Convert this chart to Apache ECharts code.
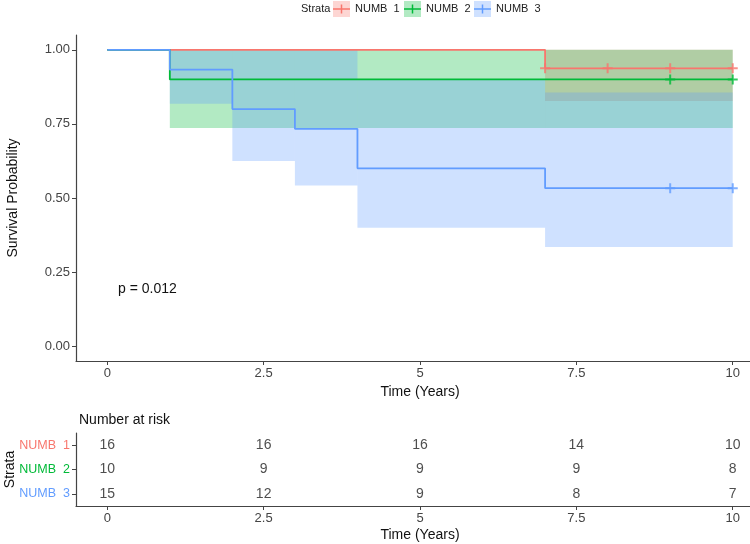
<!DOCTYPE html>
<html>
<head>
<meta charset="utf-8">
<script src="https://cdn.jsdelivr.net/npm/echarts@6/dist/echarts.min.js"></script>
<style>
  html, body { margin: 0; padding: 0; background: #fff; }
</style>
</head>
<body>
<div id="main" style="width: 750px;height:544px;"></div>
<script>
// strata
const strata = ["NUMB 1", "NUMB 2", "NUMB 3"];
const colors = ["#F8766D", "#00BA38", "#619CFF"];

// KM curves: [time, survival]
const km1 = [[0, 1], [7, 0.9375], [10, 0.9375]];
const km2 = [[0, 1], [1, 0.9], [10, 0.9]];
const km3 = [[0, 1], [1, 0.9333], [2, 0.8], [3, 0.7333], [4, 0.6], [7, 0.5333], [10, 0.5333]];

// confidence bands: [from, to, lower, upper]
const ci1 = [[7, 10, 0.827, 1]];
const ci2 = [[1, 10, 0.736, 1]];
const ci3 = [[1, 2, 0.818, 1], [2, 3, 0.625, 1], [3, 4, 0.542, 1], [4, 7, 0.4, 0.9], [7, 10, 0.335, 0.856]];

// censor marks
const cens1 = [[7, 0.9375], [8, 0.9375], [9, 0.9375], [10, 0.9375]];
const cens2 = [[9, 0.9], [10, 0.9]];
const cens3 = [[9, 0.5333], [10, 0.5333]];

// number at risk
const riskTimes = [0, 2.5, 5, 7.5, 10];
const risk1 = [16, 16, 16, 14, 10];
const risk2 = [10, 9, 9, 9, 8];
const risk3 = [15, 12, 9, 8, 7];

const xTicks = [0, 2.5, 5, 7.5, 10];
const yTicks = [0, 0.25, 0.5, 0.75, 1];
const pText = "p = 0.012";

const font = "Liberation Sans, Arial, sans-serif";
const axisColor = "#444";
const plus = "path://M4,0H6V4H10V6H6V10H4V6H0V4H4Z";

const myChart = echarts.init(document.getElementById("main"));

function band(ci, color) {
  return {
    type: "custom",
    xAxisIndex: 0,
    yAxisIndex: 0,
    z: 1,
    silent: true,
    encode: { x: [0, 1], y: [2, 3] },
    data: ci,
    renderItem: function(params, api) {
      const p0 = api.coord([api.value(0), api.value(3)]);
      const p1 = api.coord([api.value(1), api.value(2)]);
      return {
        type: "rect",
        shape: { x: p0[0], y: p0[1], width: p1[0] - p0[0], height: p1[1] - p0[1] },
        style: { fill: color, opacity: 0.3 },
      };
    },
  };
}

function curve(data, color) {
  return {
    type: "line",
    step: "end",
    data: data,
    symbol: "none",
    z: 3,
    lineStyle: { color: color, width: 1.8 },
  };
}

function censor(data, color) {
  return {
    type: "scatter",
    data: data,
    symbol: plus,
    symbolSize: 10,
    z: 4,
    itemStyle: { color: color },
  };
}

const riskRows = [risk1, risk2, risk3];
const riskData = [];
riskRows.forEach(function(row, i) {
  row.forEach(function(n, j) {
    riskData.push([riskTimes[j], strata[i], n]);
  });
});

// legend drawn by hand (ggplot style keys)
const legendGraphic = [
  { type: "text", left: 301, top: 3, style: { text: "Strata", font: "11px " + font, fill: "#222" } },
];
const keyX = [333, 404, 474];
strata.forEach(function(s, i) {
  const x = keyX[i];
  legendGraphic.push({ type: "rect", shape: { x: x, y: 1, width: 17, height: 16 }, style: { fill: colors[i], opacity: 0.3 } });
  legendGraphic.push({ type: "line", shape: { x1: x, y1: 9, x2: x + 17, y2: 9 }, style: { stroke: colors[i], lineWidth: 1.5 } });
  legendGraphic.push({ type: "line", shape: { x1: x + 8.5, y1: 4.5, x2: x + 8.5, y2: 13.5 }, style: { stroke: colors[i], lineWidth: 1.5 } });
  legendGraphic.push({ type: "text", left: x + 22, top: 3, style: { text: s.replace(" ", "  "), font: "11px " + font, fill: "#222" } });
});
legendGraphic.push({ type: "text", left: 118, top: 282, style: { text: pText, font: "14px " + font, fill: "#111" } });

const rich = {};
colors.forEach(function(c, i) {
  rich["c" + i] = { color: c, fontSize: 12.5, fontFamily: font };
});

function timeAxis(gridIndex) {
  return {
    type: "value",
    gridIndex: gridIndex,
    min: -0.5,
    max: 10.5,
    name: "Time (Years)",
    nameLocation: "middle",
    nameGap: 22,
    nameTextStyle: { fontSize: 14, color: "#111", fontFamily: font },
    splitLine: { show: false },
    axisLine: { show: true, onZero: false, lineStyle: { color: axisColor, width: 1.2 } },
    axisTick: { show: true, length: 4, customValues: xTicks, lineStyle: { color: axisColor } },
    axisLabel: { customValues: xTicks, margin: 6, fontSize: 13, color: "#444", formatter: function(v) { return String(v); } },
  };
}

const options = {
  backgroundColor: "#fff",
  animation: false,
  textStyle: { fontFamily: font },
  title: {
    text: "Number at risk",
    left: 74,
    top: 408,
    textStyle: { fontSize: 14, fontWeight: "normal", color: "#111", fontFamily: font },
  },
  graphic: legendGraphic,
  grid: [
    { left: 76, top: 35, width: 688, height: 326, outerBoundsMode: "none", containLabel: false },
    { left: 76, top: 433, width: 688, height: 73, outerBoundsMode: "none", containLabel: false },
  ],
  xAxis: [timeAxis(0), timeAxis(1)],
  yAxis: [
    {
      type: "value",
      gridIndex: 0,
      min: -0.05,
      max: 1.05,
      name: "Survival Probability",
      nameLocation: "middle",
      nameRotate: 90,
      nameGap: 56,
      nameMoveOverlap: false,
      nameTextStyle: { fontSize: 14, color: "#111", fontFamily: font },
      splitLine: { show: false },
      axisLine: { show: true, onZero: false, lineStyle: { color: axisColor, width: 1.2 } },
      axisTick: { show: true, length: 4, customValues: yTicks, lineStyle: { color: axisColor } },
      axisLabel: { customValues: yTicks, margin: 6, fontSize: 13, color: "#444", formatter: function(v) { return v.toFixed(2); } },
    },
    {
      type: "category",
      gridIndex: 1,
      data: strata,
      inverse: true,
      name: "Strata",
      nameLocation: "middle",
      nameRotate: 90,
      nameGap: 59,
      nameMoveOverlap: false,
      nameTextStyle: { fontSize: 14, color: "#111", fontFamily: font },
      axisLine: { show: true, onZero: false, lineStyle: { color: axisColor, width: 1.2 } },
      axisTick: { show: true, length: 4, alignWithLabel: true, lineStyle: { color: axisColor } },
      axisLabel: {
        margin: 6,
        formatter: function(v, i) { return "{c" + i + "|" + v.replace(" ", "  ") + "}"; },
        rich: rich,
      },
    },
  ],
  series: [
    band(ci1, colors[0]),
    band(ci2, colors[1]),
    band(ci3, colors[2]),
    curve(km1, colors[0]),
    curve(km2, colors[1]),
    curve(km3, colors[2]),
    censor(cens1, colors[0]),
    censor(cens2, colors[1]),
    censor(cens3, colors[2]),
    {
      type: "scatter",
      xAxisIndex: 1,
      yAxisIndex: 1,
      data: riskData,
      symbolSize: 1,
      itemStyle: { color: "rgba(0,0,0,0)" },
      label: {
        show: true,
        position: "inside",
        fontSize: 14,
        color: "#222",
        fontFamily: font,
        formatter: function(p) { return String(p.value[2]); },
      },
    },
  ],
};
myChart.setOption(options);
</script>
</body>
</html>
